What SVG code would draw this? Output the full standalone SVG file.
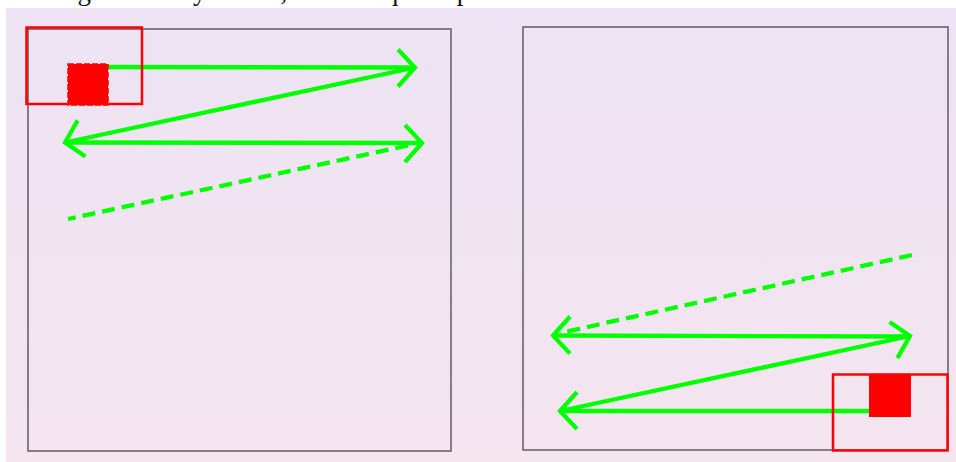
<svg xmlns="http://www.w3.org/2000/svg" width="956" height="462" viewBox="0 0 956 462">
<style>
.title{font-family:"Liberation Serif","Times New Roman",serif;font-size:27px;fill:#111}
.frame{fill:none;stroke:#4a4550;stroke-width:1.3}
.win{fill:none;stroke:#ff0000;stroke-width:2.5}
.cur{fill:#ff0000;stroke:#ff0000;stroke-width:1.5;stroke-dasharray:6 2}
.path{fill:none;stroke:#00ff00;stroke-width:4.3;stroke-linecap:butt}
.dash{fill:none;stroke:#00ff00;stroke-width:4.3;stroke-dasharray:13 7}
</style>
<defs>
<linearGradient id="bg" x1="0" y1="0" x2="0" y2="1">
<stop offset="0" stop-color="#eee3f4"/>
<stop offset="1" stop-color="#f4e5ef"/>
</linearGradient>
<marker id="arr" markerUnits="userSpaceOnUse" viewBox="-24 -24 30 48" markerWidth="30" markerHeight="48" refX="0" refY="0" orient="auto">
<path d="M-17,-18 L0,0 L-17,19" fill="none" stroke="#00ff00" stroke-width="4.3"/>
</marker>
</defs>
<rect x="0" y="0" width="956" height="462" fill="#ffffff"/>
<rect x="6" y="8" width="950" height="454" fill="url(#bg)"/>
<text class="title" x="55" y="0">Figura de trayectoria; observe que la posición actual de la ventana deslizante cambia tanto</text>

<g id="panel-left">
<rect class="frame" x="28" y="29" width="423" height="422"/>
</g>
<g id="panel-right">
<rect class="frame" x="523" y="27" width="425" height="423"/>
</g>

<g id="connectors">
<line class="path" x1="108" y1="67" x2="415" y2="67.5" marker-end="url(#arr)"/>
<line class="path" x1="415" y1="67.5" x2="65" y2="142.5" marker-end="url(#arr)"/>
<line class="path" x1="65" y1="142.5" x2="422" y2="143" marker-end="url(#arr)"/>
<line class="dash" x1="408" y1="145.5" x2="68" y2="219"/>

<line class="path" x1="869" y1="411" x2="560" y2="411" marker-end="url(#arr)"/>
<line class="path" x1="560" y1="411" x2="910" y2="336" marker-end="url(#arr)"/>
<line class="path" x1="910" y1="336.5" x2="553" y2="335.5" marker-end="url(#arr)"/>
<line class="dash" x1="912" y1="255" x2="560" y2="333"/>
</g>

<g id="window-left">
<rect class="win" x="26.5" y="27.5" width="115.5" height="76.5"/>
</g>
<g id="current-left">
<rect class="cur" x="68" y="64" width="40" height="41"/>
</g>
<g id="window-right">
<rect class="win" x="833" y="374.5" width="114.5" height="76"/>
</g>
<g id="current-right">
<rect x="869" y="374" width="42" height="43" fill="#ff0000"/>
</g>
</svg>
